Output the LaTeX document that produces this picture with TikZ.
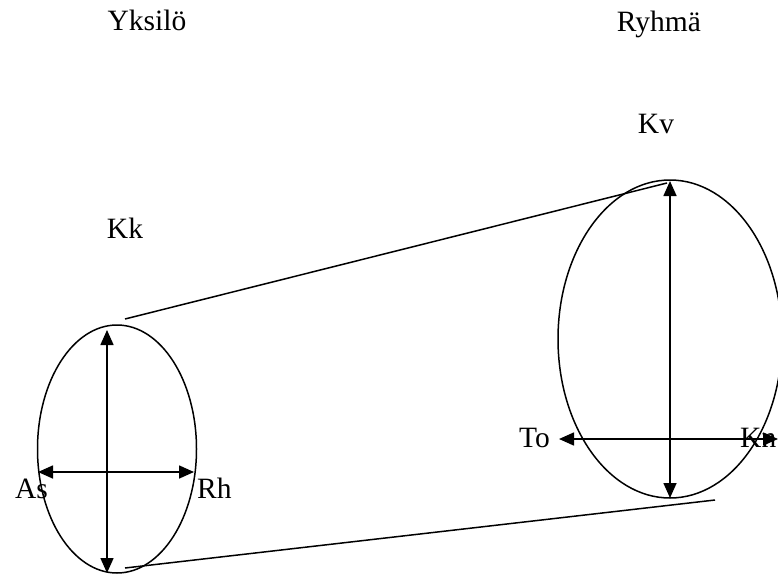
\documentclass[tikz,border=0pt]{standalone}
\usepackage{fontspec}
\setmainfont{Liberation Serif}
\usetikzlibrary{arrows.meta,shapes.geometric}

\begin{document}
\begin{tikzpicture}[x=1pt,y=-1pt,>={Triangle[length=15pt,width=13pt]}]
    \tikzset{oval/.style={draw,ellipse,inner sep=0pt,line width=1.5pt},
      label/.style={font=\fontsize{29.5}{32}\selectfont,inner sep=0pt},
      axis/.style={<->,line width=1.6pt}}
    \useasboundingbox (0,0) rectangle (778,578);
    % the two groups
    \node[oval,minimum width=159,minimum height=248] (yksilo) at (117,449) {};
    \node[oval,minimum width=224,minimum height=318] (ryhma) at (670,339) {};
    % titles
    \node[label,anchor=base] (t1) at (147,31) {Yksilö};
    \node[label,anchor=base] (t2) at (659,32) {Ryhmä};
    \node[label,anchor=base] (kk) at (125,238) {Kk};
    \node[label,anchor=base] (kv) at (656,133) {Kv};
    \node[label,anchor=base east] (as) at (48,498) {As};
    \node[label,anchor=base west] (rh) at (197,498) {Rh};
    \node[label,anchor=base east] (to) at (550,447) {To};
    \node[label,anchor=base west] (kn) at (740,447) {Kn};
    % axis ends
    \coordinate (yt) at (107,330);
    \coordinate (yb) at (107,573);
    \coordinate (yl) at (38,472);
    \coordinate (yr) at (194,472);
    \coordinate (rt) at (670,181);
    \coordinate (rb) at (670,498);
    \coordinate (rl) at (559,439);
    \coordinate (rr) at (778,439);
    \draw[axis] (yt) -- (yb);
    \draw[axis] (yl) -- (yr);
    \draw[axis] (rt) -- (rb);
    \draw[axis] (rl) -- (rr);
    % connecting lines
    \coordinate (a1) at (125,319);
    \coordinate (a2) at (667,183);
    \coordinate (b1) at (125,568);
    \coordinate (b2) at (715,500);
    \draw[line width=1.5pt] (a1) -- (a2);
    \draw[line width=1.5pt] (b1) -- (b2);
  \end{tikzpicture}
\end{document}
